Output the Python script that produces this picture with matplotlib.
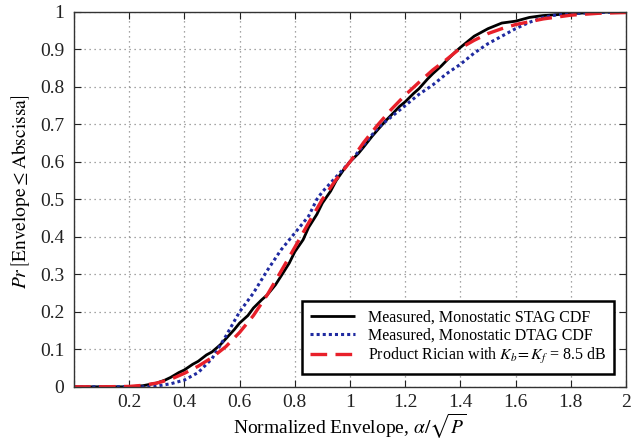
import matplotlib
matplotlib.use("Agg")
import matplotlib.pyplot as plt
import numpy as np

plt.rcParams['font.family'] = ['Liberation Serif', 'DejaVu Serif']
plt.rcParams['mathtext.fontset'] = 'stix'

# Measured, Monostatic STAG CDF
stag_x = [0.0, 0.2, 0.25, 0.3, 0.33, 0.35, 0.38, 0.4, 0.43, 0.45, 0.48, 0.5, 0.53, 0.55, 0.58, 0.6,
          0.63, 0.65, 0.68, 0.7, 0.73, 0.75, 0.78, 0.8, 0.83, 0.85, 0.88, 0.9, 0.93, 0.95, 0.98, 1.0,
          1.03, 1.05, 1.08, 1.1, 1.13, 1.15, 1.18, 1.2, 1.23, 1.25, 1.28, 1.3, 1.33, 1.35, 1.38, 1.4,
          1.45, 1.5, 1.55, 1.6, 1.65, 1.7, 1.8, 1.9, 2.0]
stag_y = [0.0, 0.0, 0.003, 0.01, 0.018, 0.025, 0.038, 0.045, 0.06, 0.068, 0.085, 0.093, 0.112, 0.128, 0.152, 0.17,
          0.19, 0.21, 0.232, 0.245, 0.272, 0.295, 0.33, 0.36, 0.392, 0.425, 0.46, 0.49, 0.522, 0.55, 0.582, 0.6,
          0.622, 0.64, 0.668, 0.685, 0.71, 0.725, 0.748, 0.76, 0.782, 0.795, 0.82, 0.835, 0.855, 0.87, 0.892, 0.905,
          0.935, 0.955, 0.97, 0.975, 0.985, 0.99, 0.995, 0.999, 1.0]

# Measured, Monostatic DTAG CDF
dtag_x = [0.0, 0.25, 0.29, 0.35, 0.4, 0.45, 0.5, 0.55, 0.6, 0.65, 0.7, 0.75, 0.8, 0.85, 0.88, 0.9,
          0.95, 1.0, 1.05, 1.1, 1.15, 1.2, 1.25, 1.3, 1.35, 1.4, 1.45, 1.5, 1.55, 1.6, 1.65, 1.7,
          1.75, 1.8, 1.9, 2.0]
dtag_y = [0.0, 0.0, 0.001, 0.008, 0.018, 0.038, 0.075, 0.135, 0.2, 0.25, 0.31, 0.365, 0.41, 0.455, 0.5, 0.52,
          0.56, 0.6, 0.645, 0.69, 0.72, 0.75, 0.78, 0.805, 0.835, 0.86, 0.89, 0.915, 0.935, 0.955, 0.972, 0.985,
          0.992, 0.995, 0.998, 1.0]

# Product Rician with Kb = Kf = 8.5 dB
rice_x = [0.0, 0.1, 0.2, 0.25, 0.3, 0.35, 0.4, 0.45, 0.5, 0.55, 0.6, 0.65, 0.7, 0.75, 0.8, 0.85,
          0.9, 0.95, 1.0, 1.05, 1.1, 1.15, 1.2, 1.25, 1.3, 1.35, 1.4, 1.45, 1.5, 1.55, 1.6, 1.7,
          1.8, 1.9, 2.0]
rice_y = [0.0, 0.0, 0.001, 0.004, 0.01, 0.02, 0.036, 0.055, 0.078, 0.107, 0.145, 0.19, 0.245, 0.308, 0.372, 0.437,
          0.5, 0.553, 0.6, 0.652, 0.698, 0.74, 0.778, 0.812, 0.845, 0.873, 0.903, 0.924, 0.942, 0.955, 0.966, 0.981,
          0.991, 0.996, 0.998]

xticks = [0, 0.2, 0.4, 0.6, 0.8, 1, 1.2, 1.4, 1.6, 1.8, 2]
xticklabels = ['', '0.2', '0.4', '0.6', '0.8', '1', '1.2', '1.4', '1.6', '1.8', '2']
yticks = [0, 0.1, 0.2, 0.3, 0.4, 0.5, 0.6, 0.7, 0.8, 0.9, 1]
yticklabels = ['0', '0.1', '0.2', '0.3', '0.4', '0.5', '0.6', '0.7', '0.8', '0.9', '1']

fig = plt.figure(figsize=(6.31, 4.41), dpi=100)
ax = fig.add_axes([74/631, 1-386.8/441, 552/631, 375/441])

ax.plot(stag_x, stag_y, color='black', lw=2.0, solid_capstyle='butt',
        label='Measured, Monostatic STAG CDF')
ax.plot(dtag_x, dtag_y, color='#1f2aa0', lw=2.2, linestyle=(0, (1, 1)),
        label='Measured, Monostatic DTAG CDF')
ax.plot(rice_x, rice_y, color='#e8202a', lw=2.4, linestyle=(0, (5, 2.5)),
        label=r'Product Rician with $K_b\!=K_f$ = 8.5 dB')

ax.set_xlim(0, 2)
ax.set_ylim(0, 1)
ax.set_xticks(xticks)
ax.set_xticklabels(xticklabels)
ax.set_yticks(yticks)
ax.set_yticklabels(yticklabels)
ax.tick_params(direction='in', top=True, right=True, length=5, width=0.8,
               labelsize=14, pad=7, colors='#222222')
ax.tick_params(axis='x', pad=5)
for s in ax.spines.values():
    s.set_linewidth(1.0)
    s.set_color('#333333')
ax.grid(True, linestyle=(0, (1, 3)), color='#888888', linewidth=0.9)

ax.set_xlabel(r'Normalized Envelope, $\alpha/\sqrt{P}$', fontsize=14)
ax.xaxis.set_label_coords(0.5, -0.066)
ax.set_ylabel(r'$Pr\,\left[\mathrm{Envelope}\leq\mathrm{Abscissa}\right]$', fontsize=14)
ax.yaxis.set_label_coords(-0.076, 0.52)

leg = ax.legend(loc='lower right', bbox_to_anchor=(0.978, 0.034), borderaxespad=0,
                fontsize=11.5, fancybox=False, framealpha=1, edgecolor='black',
                handlelength=2.8, labelspacing=0.15, borderpad=0.5)
leg.get_frame().set_linewidth(1.8)

fig.savefig('out.png', dpi=100)
